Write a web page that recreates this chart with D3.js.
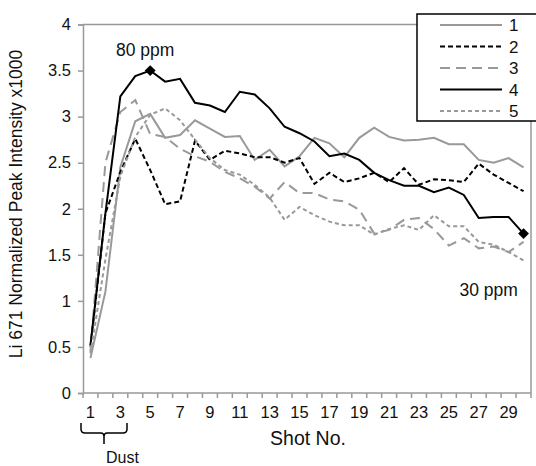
<!DOCTYPE html>
<html>
<head>
<meta charset="utf-8">
<script src="https://cdn.jsdelivr.net/npm/d3@7"></script>
<style>
  body { margin: 0; background: #fff; }
  text { font-family: "Liberation Sans", Arial, sans-serif; fill: #111; }
</style>
</head>
<body>
<div id="chart"></div>
<script>
// shot numbers 1..30
var shots = [1,2,3,4,5,6,7,8,9,10,11,12,13,14,15,16,17,18,19,20,21,22,23,24,25,26,27,28,29,30];
var tickLabels = ["1","3","5","7","9","11","13","15","17","19","21","23","25","27","29"];
var yTicks = [0, 0.5, 1, 1.5, 2, 2.5, 3, 3.5, 4];

// values in x1000 normalized peak intensity
var s1 = [0.38,1.10,2.45,2.95,3.03,2.77,2.80,2.96,2.87,2.78,2.79,2.53,2.64,2.46,2.57,2.77,2.71,2.56,2.77,2.88,2.78,2.74,2.75,2.77,2.70,2.70,2.53,2.50,2.55,2.45];
var s2 = [0.50,1.95,2.40,2.76,2.42,2.05,2.08,2.74,2.53,2.63,2.60,2.56,2.56,2.50,2.55,2.27,2.39,2.29,2.33,2.39,2.29,2.44,2.26,2.32,2.31,2.29,2.49,2.37,2.28,2.19];
var s3 = [0.45,2.50,3.05,3.18,2.81,2.78,2.65,2.57,2.51,2.40,2.33,2.24,2.11,2.29,2.17,2.17,2.10,2.08,1.99,1.73,1.77,1.88,1.90,1.78,1.60,1.68,1.57,1.59,1.53,1.64];
var s4 = [0.52,1.95,3.22,3.44,3.50,3.38,3.41,3.15,3.12,3.05,3.27,3.24,3.09,2.89,2.82,2.73,2.57,2.60,2.53,2.39,2.31,2.25,2.25,2.18,2.23,2.15,1.90,1.91,1.91,1.73];
var s5 = [0.43,1.45,2.35,2.78,3.02,3.09,2.96,2.75,2.55,2.42,2.37,2.26,2.12,1.88,2.02,1.93,1.86,1.82,1.82,1.72,1.78,1.82,1.77,1.93,1.81,1.81,1.64,1.61,1.53,1.44];

var seriesNames = ["1","2","3","4","5"];
var seriesColors = ["#999","#000","#999","#000","#999"];
var seriesDash = [null,"5,3","10,6",null,"4,3"];
var allSeries = [s1,s2,s3,s4,s5];

var margin = {top: 24.5, right: 5, bottom: 73, left: 83},
    width = 536 - margin.left - margin.right,
    height = 466 - margin.top - margin.bottom;

var svgRoot = d3.select("#chart")
  .append("svg")
    .attr("width", 536)
    .attr("height", 466);
var svg = svgRoot.append("g")
    .attr("transform", "translate(" + margin.left + "," + margin.top + ")");

var x = d3.scaleBand()
  .domain(shots)
  .range([0, 448])
  .padding(0);

var y = d3.scaleLinear()
  .domain([0, 4])
  .range([height, 0]);

// plot border (top and right)
svg.append("path")
  .attr("d", "M0,0H" + x.range()[1] + "V" + height)
  .attr("fill", "none")
  .attr("stroke", "#999")
  .attr("stroke-width", 1.5);

// y axis
var yAxis = svg.append("g")
  .call(d3.axisLeft(y).tickValues(yTicks).tickSize(5).tickPadding(7)
    .tickFormat(function(d) { return d; }));
yAxis.selectAll("path, line").attr("stroke", "#999").attr("stroke-width", 1.5);
yAxis.selectAll("text").style("font-size", "16.5px").attr("fill", "#111");

// x axis: ticks between categories, labels on odd shots
var xAxis = svg.append("g")
  .attr("transform", "translate(0," + height + ")");
xAxis.append("line")
  .attr("x1", 0).attr("x2", x.range()[1])
  .attr("stroke", "#999").attr("stroke-width", 1.5);
xAxis.selectAll(".tk")
  .data(shots.concat([31]))
  .enter().append("line")
  .attr("x1", function(d) { return d <= 30 ? x(d) : x.range()[1]; })
  .attr("x2", function(d) { return d <= 30 ? x(d) : x.range()[1]; })
  .attr("y1", 0).attr("y2", 5)
  .attr("stroke", "#999").attr("stroke-width", 1.5);
xAxis.selectAll(".lbl")
  .data(tickLabels)
  .enter().append("text")
  .attr("x", function(d) { return x(+d) + x.bandwidth() / 2; })
  .attr("y", 25)
  .attr("text-anchor", "middle")
  .style("font-size", "16.5px")
  .text(function(d) { return d; });

// lines
var line = d3.line()
  .x(function(d, i) { return x(shots[i]) + x.bandwidth() / 2; })
  .y(function(d) { return y(d); });

allSeries.forEach(function(s, i) {
  svg.append("path")
    .datum(s)
    .attr("fill", "none")
    .attr("stroke", seriesColors[i])
    .attr("stroke-width", 2)
    .attr("stroke-dasharray", seriesDash[i])
    .attr("d", line);
});

// diamond markers on series 4 at shot 5 and shot 30
[5, 30].forEach(function(sh) {
  svg.append("path")
    .attr("d", d3.symbol().type(d3.symbolDiamond2).size(75))
    .attr("transform", "translate(" + (x(sh) + x.bandwidth() / 2) + "," + y(s4[sh - 1]) + ")")
    .attr("fill", "#000");
});

svg.append("text")
  .attr("x", x(5) + x.bandwidth() / 2 - 5)
  .attr("y", y(4) + 31)
  .attr("text-anchor", "middle")
  .style("font-size", "17.5px")
  .text("80 ppm");

svg.append("text")
  .attr("x", x(28) + x.bandwidth() / 2 - 5)
  .attr("y", y(1.1) + 4)
  .attr("text-anchor", "middle")
  .style("font-size", "17.5px")
  .text("30 ppm");

// axis titles
svgRoot.append("text")
  .attr("transform", "translate(22,204) rotate(-90)")
  .attr("text-anchor", "middle")
  .style("font-size", "17.5px")
  .text("Li 671 Normalized Peak Intensity x1000");

svgRoot.append("text")
  .attr("x", 308)
  .attr("y", 445)
  .attr("text-anchor", "middle")
  .style("font-size", "19.5px")
  .text("Shot No.");

// Dust brace under shots 1-3
var bx0 = 81, bx1 = 127, bm = (bx0 + bx1) / 2, by = 423;
svgRoot.append("path")
  .attr("d", "M" + bx0 + "," + by + "V" + (by + 6) + "Q" + bx0 + "," + (by + 10) + " " + (bx0 + 4) + "," + (by + 10) +
             "H" + (bm - 3) + "Q" + bm + "," + (by + 10) + " " + bm + "," + (by + 14) + "V" + (by + 21) +
             "M" + bm + "," + (by + 14) + "Q" + bm + "," + (by + 10) + " " + (bm + 3) + "," + (by + 10) +
             "H" + (bx1 - 4) + "Q" + bx1 + "," + (by + 10) + " " + bx1 + "," + (by + 6) + "V" + by)
  .attr("fill", "none")
  .attr("stroke", "#000")
  .attr("stroke-width", 1.5);
svgRoot.append("text")
  .attr("x", 106)
  .attr("y", 463)
  .style("font-size", "16px")
  .text("Dust");

// legend
var legend = svgRoot.append("g");
legend.append("rect")
  .attr("x", 417).attr("y", 14)
  .attr("width", 130).attr("height", 107)
  .attr("fill", "#fff")
  .attr("stroke", "#000")
  .attr("stroke-width", 1.5);
seriesNames.forEach(function(n, i) {
  var ly = 25 + i * 21.5;
  legend.append("line")
    .attr("x1", 440).attr("x2", 502)
    .attr("y1", ly).attr("y2", ly)
    .attr("stroke", seriesColors[i])
    .attr("stroke-width", 2)
    .attr("stroke-dasharray", seriesDash[i]);
  legend.append("text")
    .attr("x", 509).attr("y", ly + 6)
    .style("font-size", "17px")
    .text(n);
});
</script>
</body>
</html>
